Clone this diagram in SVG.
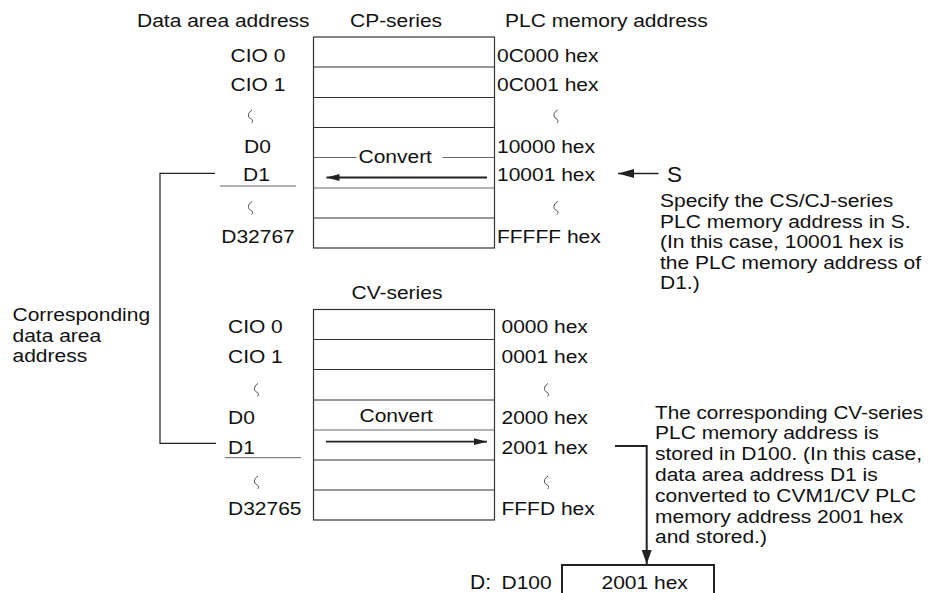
<svg xmlns="http://www.w3.org/2000/svg" xmlns:xlink="http://www.w3.org/1999/xlink" width="929" height="593" viewBox="0 0 929 593">
  <style>
    .t { font-family: "Liberation Sans", Arial, Helvetica, sans-serif; font-size: 18.5px; fill: #111; }
    .big { font-family: "Liberation Sans", Arial, Helvetica, sans-serif; fill: #111; }
    .box { fill: #fff; stroke: #333; stroke-width: 1.2; }
    .ln { stroke: #333; stroke-width: 1.2; fill: none; }
    .ul { stroke: #666; stroke-width: 1; fill: none; }
    .conn { stroke: #222; fill: none; }
    .brk { fill: none; stroke: #444; stroke-width: 1; }
  </style>
  <defs>
    <path id="brk" class="brk" d="M1.5,-6.5 C-3,-3.5 -3,0.5 0,2 C2.5,3.2 2.5,5 1,6.5"/>
    <marker id="headSmall" markerUnits="userSpaceOnUse" markerWidth="14" markerHeight="8" refX="13" refY="4" orient="auto">
      <path d="M0,0.6 L13,4 L0,7.4 Z" fill="#222"/>
    </marker>
    <marker id="headBig" markerUnits="userSpaceOnUse" markerWidth="17" markerHeight="10" refX="16" refY="5" orient="auto">
      <path d="M0,0.5 L16,5 L0,9.5 Z" fill="#222"/>
    </marker>
    <marker id="headDown" markerUnits="userSpaceOnUse" markerWidth="15" markerHeight="11" refX="14" refY="5.5" orient="auto">
      <path d="M0,0.5 L14,5.5 L0,10.5 Z" fill="#222"/>
    </marker>
  </defs>

  <!-- Column headers -->
  <g id="headers">
    <text class="t" transform="matrix(1.135 0 0 1 137 26.5)">Data area address</text>
    <text class="t" transform="matrix(1.135 0 0 1 350 26.5)">CP-series</text>
    <text class="t" transform="matrix(1.135 0 0 1 505 26.5)">PLC memory address</text>
  </g>

  <!-- CP-series memory table -->
  <g id="cp-table">
    <rect class="box" x="313.5" y="37" width="181" height="211"/>
    <line class="ln" x1="313.5" y1="67" x2="494.5" y2="67"/>
    <line class="ln" x1="313.5" y1="97.5" x2="494.5" y2="97.5"/>
    <line class="ln" x1="313.5" y1="127.5" x2="494.5" y2="127.5"/>
    <line class="ul" x1="313.5" y1="157.5" x2="356.5" y2="157.5"/>
    <line class="ul" x1="442.5" y1="157.5" x2="494.5" y2="157.5"/>
    <line class="ul" x1="313.5" y1="188" x2="494.5" y2="188"/>
    <line class="ln" x1="313.5" y1="218" x2="494.5" y2="218"/>
    <text class="t" transform="matrix(1.135 0 0 1 358.5 163)">Convert</text>
  </g>

  <g id="cp-data-area-labels">
    <text class="t" text-anchor="middle" transform="matrix(1.135 0 0 1 258 61.5)">CIO 0</text>
    <text class="t" text-anchor="middle" transform="matrix(1.135 0 0 1 258 91)">CIO 1</text>
    <use xlink:href="#brk" x="250.5" y="116.5"/>
    <text class="t" text-anchor="middle" transform="matrix(1.135 0 0 1 257.5 152.5)">D0</text>
    <text class="t" text-anchor="middle" transform="matrix(1.135 0 0 1 256.5 180.5)">D1</text>
    <line class="ul" x1="220" y1="186" x2="296" y2="186"/>
    <use xlink:href="#brk" x="250.5" y="208"/>
    <text class="t" text-anchor="middle" transform="matrix(1.135 0 0 1 258 243)">D32767</text>
  </g>

  <g id="cp-plc-addresses">
    <text class="t" transform="matrix(1.135 0 0 1 497 61.5)">0C000 hex</text>
    <text class="t" transform="matrix(1.135 0 0 1 497 91)">0C001 hex</text>
    <use xlink:href="#brk" x="556" y="116.5"/>
    <text class="t" transform="matrix(1.135 0 0 1 497 152.5)">10000 hex</text>
    <text class="t" transform="matrix(1.135 0 0 1 497 180.5)">10001 hex</text>
    <use xlink:href="#brk" x="556" y="208"/>
    <text class="t" transform="matrix(1.135 0 0 1 497 243)">FFFFF hex</text>
  </g>

  <!-- Source operand note -->
  <g id="s-note">
    <text class="big" font-size="22.5" x="667" y="181.5">S</text>
    <text class="t" transform="matrix(1.135 0 0 1 660 207)">Specify the CS/CJ-series</text>
    <text class="t" transform="matrix(1.135 0 0 1 660 227.5)">PLC memory address in S.</text>
    <text class="t" transform="matrix(1.135 0 0 1 660 248)">(In this case, 10001 hex is</text>
    <text class="t" transform="matrix(1.135 0 0 1 660 268.5)">the PLC memory address of</text>
    <text class="t" transform="matrix(1.135 0 0 1 660 289)">D1.)</text>
  </g>

  <!-- Corresponding label -->
  <g id="corresponding-label">
    <text class="t" transform="matrix(1.135 0 0 1 12.5 321)">Corresponding</text>
    <text class="t" transform="matrix(1.135 0 0 1 12.5 341.5)">data area</text>
    <text class="t" transform="matrix(1.135 0 0 1 12.5 362)">address</text>
  </g>

  <!-- CV-series memory table -->
  <g id="cv-table">
    <text class="t" transform="matrix(1.135 0 0 1 351.5 298.5)">CV-series</text>
    <rect class="box" x="313.5" y="309.5" width="181" height="210.5"/>
    <line class="ln" x1="313.5" y1="339.5" x2="494.5" y2="339.5"/>
    <line class="ln" x1="313.5" y1="369.5" x2="494.5" y2="369.5"/>
    <line class="ln" x1="313.5" y1="400" x2="494.5" y2="400"/>
    <line class="ul" x1="313.5" y1="430" x2="494.5" y2="430"/>
    <line class="ln" x1="313.5" y1="460" x2="494.5" y2="460"/>
    <line class="ln" x1="313.5" y1="490" x2="494.5" y2="490"/>
    <text class="t" transform="matrix(1.135 0 0 1 359.5 422)">Convert</text>
  </g>

  <g id="cv-data-area-labels">
    <text class="t" transform="matrix(1.135 0 0 1 228 332.5)">CIO 0</text>
    <text class="t" transform="matrix(1.135 0 0 1 228 362.5)">CIO 1</text>
    <use xlink:href="#brk" x="256.5" y="390"/>
    <text class="t" transform="matrix(1.135 0 0 1 228 424)">D0</text>
    <text class="t" transform="matrix(1.135 0 0 1 228 453.5)">D1</text>
    <line class="ul" x1="225" y1="457.7" x2="301" y2="457.7"/>
    <use xlink:href="#brk" x="256.5" y="482.5"/>
    <text class="t" transform="matrix(1.135 0 0 1 228 515)">D32765</text>
  </g>

  <g id="cv-plc-addresses">
    <text class="t" transform="matrix(1.135 0 0 1 501.5 332.5)">0000 hex</text>
    <text class="t" transform="matrix(1.135 0 0 1 501.5 362.5)">0001 hex</text>
    <use xlink:href="#brk" x="546.5" y="390"/>
    <text class="t" transform="matrix(1.135 0 0 1 501.5 424)">2000 hex</text>
    <text class="t" transform="matrix(1.135 0 0 1 501.5 453.5)">2001 hex</text>
    <use xlink:href="#brk" x="546.5" y="482.5"/>
    <text class="t" transform="matrix(1.135 0 0 1 501.5 515)">FFFD hex</text>
  </g>

  <!-- Destination note -->
  <g id="d-note">
    <text class="t" transform="matrix(1.12 0 0 1 655 418.5)">The corresponding CV-series</text>
    <text class="t" transform="matrix(1.135 0 0 1 655 439.3)">PLC memory address is</text>
    <text class="t" transform="matrix(1.135 0 0 1 655 460)">stored in D100. (In this case,</text>
    <text class="t" transform="matrix(1.135 0 0 1 655 481)">data area address D1 is</text>
    <text class="t" transform="matrix(1.135 0 0 1 655 501.7)">converted to CVM1/CV PLC</text>
    <text class="t" transform="matrix(1.135 0 0 1 655 522.5)">memory address 2001 hex</text>
    <text class="t" transform="matrix(1.135 0 0 1 655 543.3)">and stored.)</text>
  </g>

  <!-- D100 destination word -->
  <g id="d100">
    <text class="big" font-size="21" x="470" y="588.5">D:</text>
    <text class="t" transform="matrix(1.135 0 0 1 501.5 588.5)">D100</text>
    <path class="conn" stroke-width="2" d="M562,600 V565 H714 V600"/>
    <text class="t" transform="matrix(1.135 0 0 1 601.5 588.5)">2001 hex</text>
  </g>

  <!-- Connectors -->
  <g id="connectors">
    <line class="conn" stroke-width="1.8" x1="487" y1="177.5" x2="326.5" y2="177.5" marker-end="url(#headSmall)"/>
    <line class="conn" stroke-width="1.8" x1="326" y1="441.7" x2="487" y2="441.7" marker-end="url(#headSmall)"/>
    <line class="conn" stroke-width="1.5" x1="658.5" y1="173.5" x2="618" y2="173.5" marker-end="url(#headBig)"/>
    <path class="conn" stroke-width="1.2" d="M215,173.3 H160 V443.3 H216"/>
    <path class="conn" stroke-width="2" d="M615,446 H646.7 V564" marker-end="url(#headDown)"/>
  </g>
</svg>
